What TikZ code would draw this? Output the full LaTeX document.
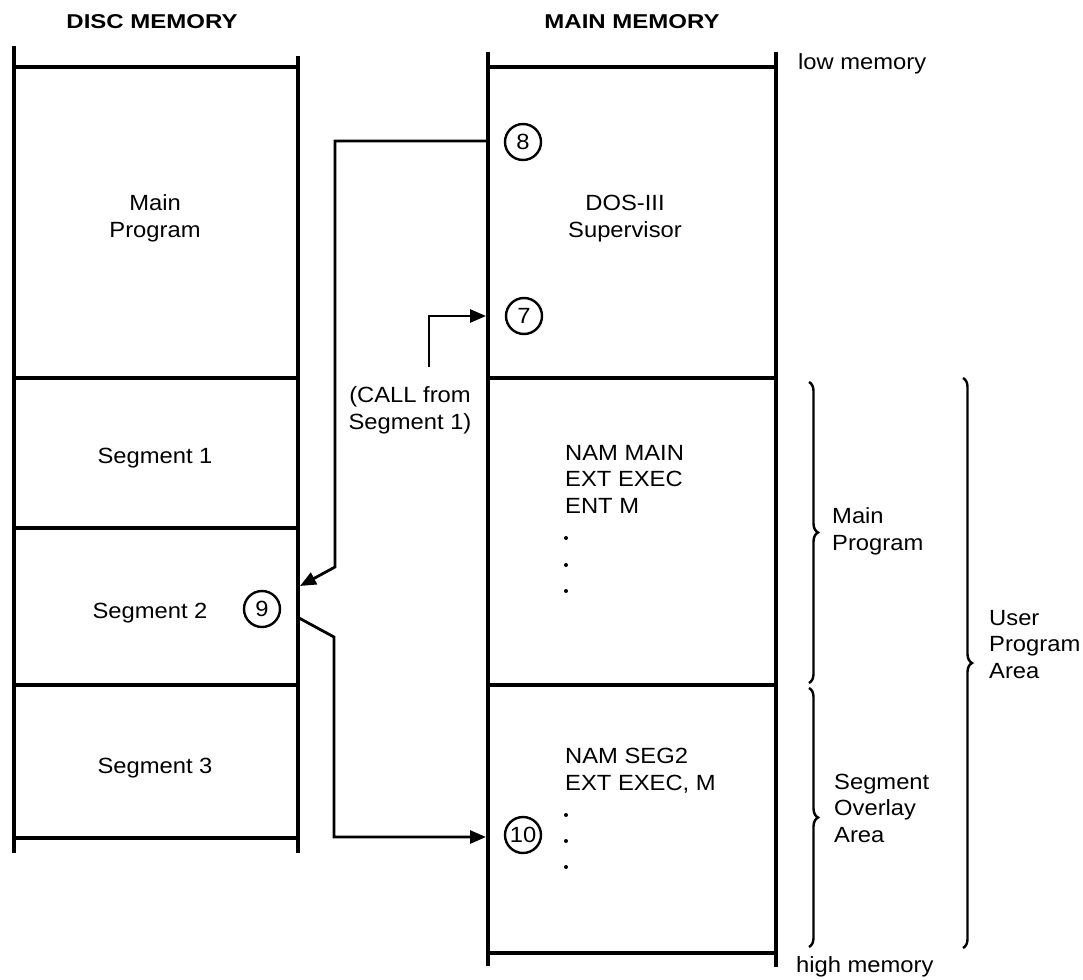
\documentclass[tikz,border=0pt]{standalone}
\usepackage{fontspec}
\setmainfont{Liberation Sans}[FakeStretch=1.08]
\newfontfamily\headfont{Liberation Sans}[FakeStretch=1.2]
\usetikzlibrary{arrows.meta,decorations.pathreplacing}
\tikzset{
  frame/.style={line width=3.2pt},
  conn/.style={line width=2.8pt,-{Triangle[length=16pt,width=13pt]}},
  lbl/.style={font=\fontsize{22}{26.5}\selectfont,inner sep=0pt,anchor=base},
  lblc/.style={lbl,align=center},
  lbll/.style={lbl,align=left,anchor=base west},
  head/.style={font=\headfont\bfseries\fontsize{20}{24}\selectfont,inner sep=0pt,anchor=base},
  num/.style={circle,draw,line width=2.4pt,minimum size=36pt,inner sep=0pt,font=\fontsize{22}{22}\selectfont},
  br/.style={decorate,decoration={brace,amplitude=9pt},line width=2.4pt},
  dot/.style={circle,fill,inner sep=0pt,minimum size=4pt}
}
\begin{document}
\begin{tikzpicture}[x=1pt,y=-1pt]
\useasboundingbox (0,0) rectangle (1083,979);
% headings
\node[head] (hdisc) at (152,29) {DISC MEMORY};
\node[head] (hmain) at (632,29) {MAIN MEMORY};
% disc memory frame
\draw[frame] (14,46) -- (14,853);
\draw[frame] (298,56) -- (298,853);
\foreach \y in {67,378,528,685,838} \draw[frame] (14,\y) -- (298,\y);
% main memory frame
\draw[frame] (488,52) -- (488,966);
\draw[frame] (776,52) -- (776,967);
\foreach \y in {67,378,685,953} \draw[frame] (488,\y) -- (776,\y);
% disc texts
\node[lblc] (dmain) at (155,237) {Main\\Program};
\node[lbl] (seg1) at (155,463) {Segment 1};
\node[lbl] (seg2) at (150,618) {Segment 2};
\node[lbl] (seg3) at (155,773) {Segment 3};
% main memory texts
\node[lblc] (dos) at (625,237) {DOS-III\\Supervisor};
\node[lbll] (nammain) at (565,513) {NAM MAIN\\EXT EXEC\\ENT M};
\foreach \y [count=\i] in {538,565,591} \node[dot] (dm\i) at (566,\y) {};
\node[lbll] (namseg) at (565,790) {NAM SEG2\\EXT EXEC, M};
\foreach \y [count=\i] in {815,841,867} \node[dot] (ds\i) at (566,\y) {};
% circled numbers
\node[num] (n8) at (523,142) {8};
\node[num] (n7) at (524,316) {7};
\node[num] (n9) at (262,609) {9};
\node[num] (n10) at (523,835) {10};
% call label
\node[lblc] (call) at (410,429) {(CALL from\\Segment 1)};
% connector coordinates
\coordinate (a8) at (488,141);
\coordinate (b1) at (335,141);
\coordinate (b2) at (335,567);
\coordinate (t9) at (300,586);
\coordinate (s9) at (299,618);
\coordinate (c1) at (334,637);
\coordinate (c2) at (334,837);
\coordinate (t10) at (486,837);
\coordinate (k0) at (429,367);
\coordinate (k1) at (429,316);
\coordinate (t7) at (486,316);
\draw[conn] (a8) -- (b1) -- (b2) -- (t9);
\draw[conn] (s9) -- (c1) -- (c2) -- (t10);
\draw[conn] (k0) -- (k1) -- (t7);
% braces
\draw[br] (809,382) -- (809,683);
\draw[br] (809,688) -- (809,947);
\draw[br] (963,378) -- (963,948);
\node[lbll] (lmain) at (832,550) {Main\\Program};
\node[lbll] (lseg) at (834,842) {Segment\\Overlay\\Area};
\node[lbll] (luser) at (989,678) {User\\Program\\Area};
\node[lbll] (low) at (798,70) {low memory};
\node[lbll] (high) at (796,972) {high memory};
\end{tikzpicture}
\end{document}
